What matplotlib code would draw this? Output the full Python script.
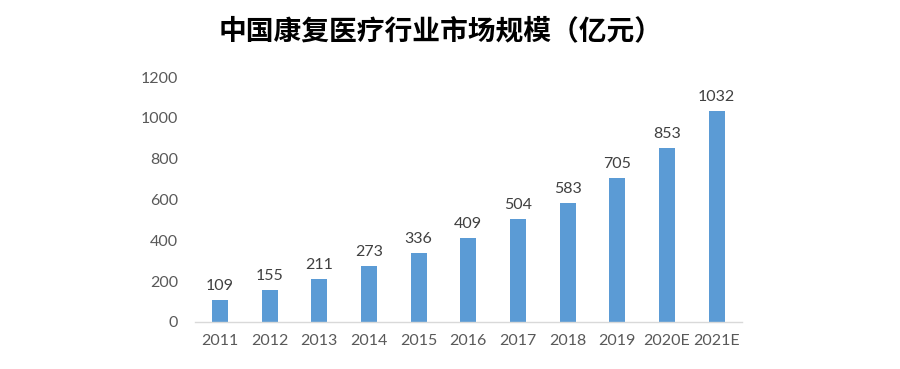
import matplotlib
matplotlib.use("Agg")
import matplotlib.pyplot as plt

categories = ["2011", "2012", "2013", "2014", "2015", "2016", "2017", "2018", "2019", "2020E", "2021E"]
values = [109, 155, 211, 273, 336, 409, 504, 583, 705, 853, 1032]
yticks = [0, 200, 400, 600, 800, 1000, 1200]
title = "中国康复医疗行业市场规模（亿元）"

fig = plt.figure(figsize=(9, 3.69), dpi=100)
ax = fig.add_axes([0.2167, 0.1274, 0.6073, 0.6639])

x = list(range(len(categories)))
ax.bar(x, values, width=0.32, color="#5B9BD5", zorder=2)
for xi, v in zip(x, values):
    ax.text(xi, v + 35, str(v), ha="center", va="bottom", fontsize=11.5,
            color="#404040", family="Lato")

ax.set_xlim(-0.5, len(categories) - 0.5)
ax.set_ylim(0, 1200)
ax.set_yticks(yticks)
ax.set_yticklabels([str(t) for t in yticks], fontsize=11.5, color="#595959", family="Lato")
ax.set_xticks(x)
ax.set_xticklabels(categories, fontsize=11.5, color="#595959", family="Lato")
ax.tick_params(axis="both", length=0)
ax.tick_params(axis="y", pad=12)
ax.tick_params(axis="x", pad=9)
for s in ["top", "right", "left"]:
    ax.spines[s].set_visible(False)
ax.spines["bottom"].set_color("#D9D9D9")
ax.spines["bottom"].set_linewidth(1)

fig.text(0.49, 0.915, title, ha="center", va="center", fontsize=20,
         fontweight="bold", family=["Noto Sans CJK SC", "DejaVu Sans"], color="#000000")

fig.savefig("out.png", dpi=100, facecolor="white")
